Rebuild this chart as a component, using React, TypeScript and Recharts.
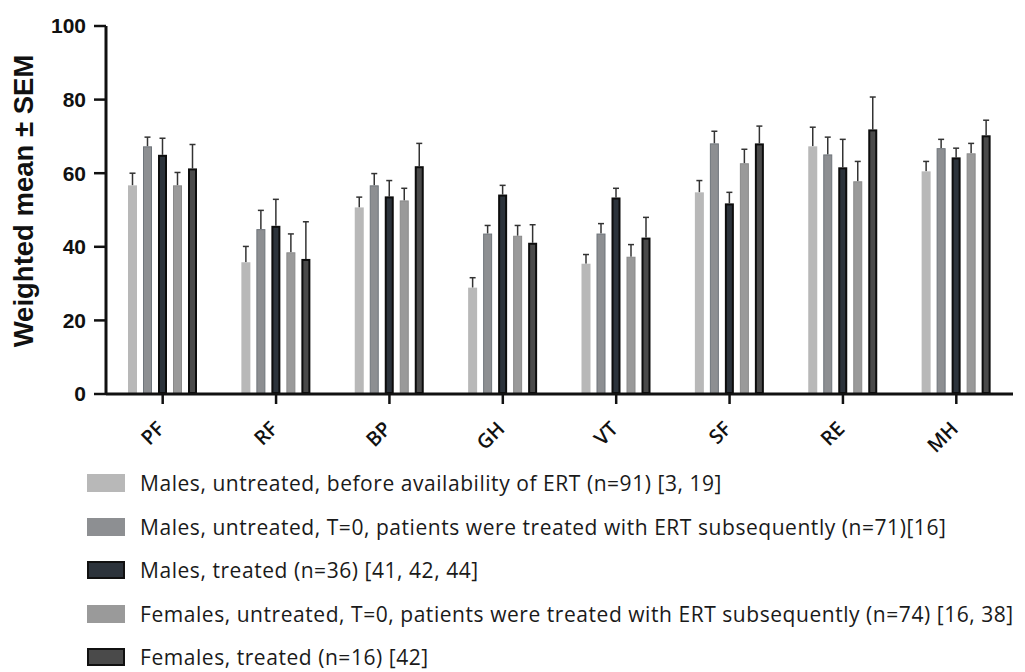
import { BarChart, Bar, XAxis, YAxis, Legend } from "recharts";

const categories = ["PF", "RF", "BP", "GH", "VT", "SF", "RE", "MH"];

const malesBefore = [56.7, 35.8, 50.7, 28.9, 35.4, 54.8, 67.3, 60.5];
const malesBeforeSem = [3.3, 4.3, 2.8, 2.7, 2.5, 3.2, 5.2, 2.7];
const malesT0 = [67.3, 44.8, 56.7, 43.6, 43.6, 68.1, 65.1, 66.8];
const malesT0Sem = [2.5, 5.1, 3.2, 2.2, 2.7, 3.3, 4.7, 2.4];
const malesTreated = [65.0, 45.7, 53.7, 54.2, 53.4, 51.8, 61.6, 64.3];
const malesTreatedSem = [4.5, 7.2, 4.3, 2.5, 2.5, 3.0, 7.6, 2.5];
const femalesT0 = [56.7, 38.5, 52.6, 43.0, 37.3, 62.7, 57.8, 65.4];
const femalesT0Sem = [3.5, 5.0, 3.3, 2.8, 3.3, 3.8, 5.4, 2.7];
const femalesTreated = [61.3, 36.7, 61.9, 41.1, 42.5, 68.1, 71.9, 70.3];
const femalesTreatedSem = [6.5, 10.1, 6.2, 4.9, 5.5, 4.7, 8.8, 4.1];

const yTicks = [0, 20, 40, 60, 80, 100];

const groups = [
  "Males, untreated, before availability of ERT (n=91) [3, 19]",
  "Males, untreated, T=0, patients were treated with ERT subsequently (n=71)[16]",
  "Males, treated (n=36) [41, 42, 44]",
  "Females, untreated, T=0, patients were treated with ERT subsequently (n=74) [16, 38]",
  "Females, treated (n=16) [42]",
];

const series = [
  { key: "mb", err: "mbErr", fill: "#b8b8b8", stroke: "none", sw: 0 },
  { key: "m0", err: "m0Err", fill: "#8d8f92", stroke: "#6f757b", sw: 1 },
  { key: "mt", err: "mtErr", fill: "#2c333b", stroke: "#0d0d0d", sw: 2 },
  { key: "f0", err: "f0Err", fill: "#9a9a9a", stroke: "#8a8a8a", sw: 1 },
  { key: "ft", err: "ftErr", fill: "#4a4a4a", stroke: "#0d0d0d", sw: 2 },
];

const data = categories.map((name, i) => ({
  name,
  mb: malesBefore[i], mbErr: malesBeforeSem[i],
  m0: malesT0[i], m0Err: malesT0Sem[i],
  mt: malesTreated[i], mtErr: malesTreatedSem[i],
  f0: femalesT0[i], f0Err: femalesT0Sem[i],
  ft: femalesTreated[i], ftErr: femalesTreatedSem[i],
}));

// bar + one-sided SEM whisker, the whisker length scaled from the bar's own px/value
const makeShape = (errKey: string, fill: string, stroke: string, sw: number) => (props: any) => {
  const { x, y, width, height, payload, value } = props;
  const v = Array.isArray(value) ? value[1] - value[0] : value;
  const e = payload[errKey];
  const ePx = v ? (e / v) * height : 0;
  const cx = x + width / 2;
  return (
    <g>
      <line x1={cx} x2={cx} y1={y} y2={y - ePx} stroke="#333" strokeWidth={1.5} />
      <line x1={cx - 3} x2={cx + 3} y1={y - ePx} y2={y - ePx} stroke="#333" strokeWidth={1.5} />
      <rect
        x={x + sw / 2}
        y={y + sw / 2}
        width={Math.max(width - sw, 0)}
        height={Math.max(height - sw, 0)}
        fill={fill}
        stroke={stroke}
        strokeWidth={sw}
      />
    </g>
  );
};

const XTick = ({ x, y, payload }: any) => {
  const ax = x + 3;
  const ay = y + 24;
  return (
    <text
      x={ax}
      y={ay}
      transform={`rotate(-45 ${ax} ${ay})`}
      textAnchor="end"
      fontFamily="Open Sans"
      fontSize={20}
      fontWeight={600}
      fill="#111"
    >
      {payload.value}
    </text>
  );
};

const LegendBox = () => (
  <div style={{ height: 198, fontFamily: "Open Sans", fontSize: 21, letterSpacing: 0.55, color: "#1a1a1a" }}>
    {groups.map((g, i) => (
      <div
        key={g}
        style={{ display: "flex", alignItems: "center", height: 20, marginBottom: i < groups.length - 1 ? 23.5 : 0 }}
      >
        <div
          style={{
            width: 38,
            height: 18,
            flexShrink: 0,
            boxSizing: "border-box",
            background: series[i].fill,
            border: series[i].sw > 1 ? "2px solid #111" : "none",
            marginRight: 15,
          }}
        />
        <span style={{ whiteSpace: "nowrap", lineHeight: "20px" }}>{g}</span>
      </div>
    ))}
  </div>
);

export default function App() {
  return (
    <div style={{ position: "absolute", left: 0, top: 0, width: 1025, height: 672, background: "#fff" }}>
      <BarChart
        width={1025}
        height={672}
        data={data}
        margin={{ top: 26, right: 12, left: 0, bottom: 0 }}
        barSize={9}
        barGap={6}
      >
        <XAxis
          dataKey="name"
          interval={0}
          height={80}
          tickSize={10}
          tick={<XTick />}
          axisLine={{ stroke: "#111", strokeWidth: 3 }}
          tickLine={{ stroke: "#111", strokeWidth: 2.5 }}
        />
        <YAxis
          width={106}
          domain={[0, 100]}
          ticks={yTicks}
          tickSize={12}
          tickMargin={8}
          axisLine={{ stroke: "#111", strokeWidth: 3 }}
          tickLine={{ stroke: "#111", strokeWidth: 2.5 }}
          tick={{ fill: "#111", fontSize: 21, fontWeight: "bold", fontFamily: "Liberation Sans" }}
          label={{
            content: () => (
              <text
                x={33}
                y={201}
                transform="rotate(-90 33 201)"
                textAnchor="middle"
                fontFamily="Liberation Sans"
                fontWeight="bold"
                fontSize={27.5}
                fill="#111"
              >
                Weighted mean ± SEM
              </text>
            ),
          }}
        />
        <Legend content={<LegendBox />} wrapperStyle={{ left: 87, top: 473, width: 935 }} />
        {series.map((s, i) => (
          <Bar
            key={s.key}
            dataKey={s.key}
            name={groups[i]}
            fill={s.fill}
            isAnimationActive={false}
            shape={makeShape(s.err, s.fill, s.stroke, s.sw)}
          />
        ))}
      </BarChart>
    </div>
  );
}
